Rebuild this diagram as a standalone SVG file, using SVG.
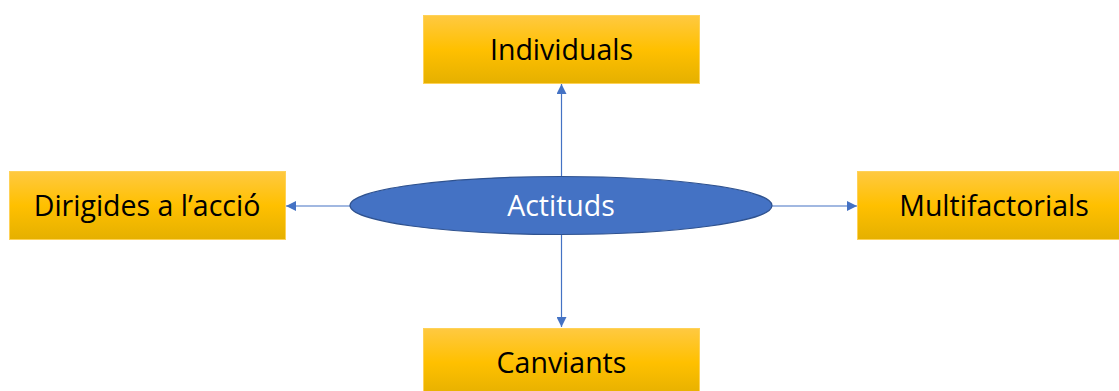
<svg xmlns="http://www.w3.org/2000/svg" width="1119" height="391" viewBox="0 0 1119 391">
<style>
.box{fill:url(#g);stroke:#ffd257;stroke-width:1}
.lbl{font-family:"Open Sans","Liberation Sans",sans-serif;font-size:28.5px;fill:#000;text-anchor:middle}
.con{stroke:#4472c4;stroke-width:1.2;fill:none;marker-end:url(#ah)}
</style>
<defs>
<linearGradient id="g" x1="0" y1="0" x2="0" y2="1">
<stop offset="0" stop-color="#ffc941"/>
<stop offset="0.5" stop-color="#ffc000"/>
<stop offset="1" stop-color="#e5b000"/>
</linearGradient>
<marker id="ah" viewBox="0 0 10 10" refX="10" refY="5" markerWidth="10" markerHeight="10" markerUnits="userSpaceOnUse" orient="auto">
<path d="M0,0 L10,5 L0,10 z" fill="#4472c4"/>
</marker>
</defs>
<g id="connectors">
<line class="con" x1="561.5" y1="176" x2="561.5" y2="84"/>
<line class="con" x1="561.5" y1="235" x2="561.5" y2="327"/>
<line class="con" x1="350" y1="206" x2="286" y2="206"/>
<line class="con" x1="772" y1="206" x2="857" y2="206"/>
</g>
<g id="n-individuals">
<rect class="box" x="423.5" y="15.5" width="276" height="68"/>
<text class="lbl" x="561.5" y="60">Individuals</text>
</g>
<g id="n-dirigides">
<rect class="box" x="9.5" y="171.5" width="276" height="68"/>
<text class="lbl" x="147" y="216">Dirigides a l’acció</text>
</g>
<g id="n-multifactorials">
<rect class="box" x="857.5" y="171.5" width="276" height="68"/>
<text class="lbl" x="994" y="216">Multifactorials</text>
</g>
<g id="n-canviants">
<rect class="box" x="423.5" y="328.5" width="276" height="68"/>
<text class="lbl" x="561.5" y="373">Canviants</text>
</g>
<g id="n-actituds">
<ellipse cx="561" cy="205.5" rx="211" ry="29" fill="#4472c4" stroke="#2f528f" stroke-width="1.2"/>
<text class="lbl" x="561" y="216" style="fill:#fff">Actituds</text>
</g>
</svg>
